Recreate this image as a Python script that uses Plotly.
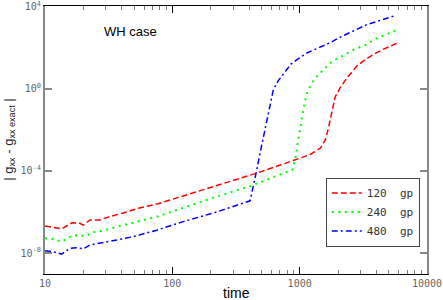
import plotly.graph_objects as go

# ── Data ──────────────────────────────────────────────────────────────────────
t_120 = [10, 13.5, 16.3, 18.8, 20, 22.6, 27, 32, 41, 56, 77, 223, 460, 890,
         1210, 1450, 1590, 1670, 1800, 1900, 2080, 2360, 2820, 3260, 3770,
         4520, 5820]
err_120 = [2.1e-7, 1.5e-7, 3.0e-7, 2.8e-7, 2.3e-7, 4.1e-7, 4.1e-7, 5.9e-7,
           8.9e-7, 1.6e-6, 2.5e-6, 1.9e-5, 7.8e-5, 3.2e-4, 6.3e-4, 1.26e-3,
           3.2e-3, 1.0e-2, 8.9e-2, 0.4, 1.12, 3.5, 13, 26, 46, 83, 166]

t_240 = [10, 12, 13.5, 16.6, 18.8, 21.3, 23.3, 29.6, 36.6, 52.5, 75.4, 223,
         408, 878, 925, 957, 992, 1015, 1040, 1068, 1100, 1143, 1207, 1322,
         1447, 1633, 1787, 2142, 2725, 3364, 3796, 4690, 5960]
err_240 = [5.2e-8, 4.7e-8, 3.5e-8, 7.6e-8, 6.9e-8, 6.9e-8, 1.0e-7, 1.3e-7,
           1.9e-7, 3.4e-7, 5.9e-7, 5.6e-6, 1.8e-5, 1.15e-4, 4.2e-4, 1.55e-3,
           4.8e-3, 1.45e-2, 3.7e-2, 9.5e-2, 0.24, 0.62, 1.3, 3.3, 5.9, 12.3,
           21, 38, 87, 141, 245, 427, 760]

t_480 = [10, 11.6, 13.5, 15.7, 17.7, 20, 22.6, 28.7, 36.6, 49.4, 75.4, 122,
         223, 408, 433, 460, 489, 519, 552, 585, 621, 680, 768, 855, 977,
         1138, 1404, 1733, 2077, 2642, 3364, 4285, 5610]
err_480 = [1.3e-8, 1.15e-8, 8.9e-9, 1.7e-8, 1.8e-8, 1.6e-8, 2.5e-8, 3.2e-8,
           4.3e-8, 6.3e-8, 1.3e-7, 3.4e-7, 1.0e-6, 3.5e-6, 1.7e-5, 1.1e-4,
           7.6e-4, 4.7e-3, 3.1e-2, 0.2, 0.89, 2.5, 6.9, 16, 29, 55, 98, 174,
           324, 631, 1320, 2140, 3630]

x_ticks = [10, 100, 1000, 10000]
x_minor = [m * d for d in (10, 100, 1000) for m in range(2, 10)]
y_ticks = [1e-8, 1e-4, 1, 1e4]
y_ticktext = ["10<sup>-8</sup>", "10<sup>-4</sup>", "10<sup>0</sup>", "10<sup>4</sup>"]

MONO = "DejaVu Sans Mono"
SANS = "Liberation Sans, Arial"

fig = go.Figure()
fig.add_trace(go.Scatter(
    x=t_120, y=err_120, mode="lines", name="120  gp",
    line=dict(color="#ff0000", width=1.5, dash="6px,3px"),
))
fig.add_trace(go.Scatter(
    x=t_240, y=err_240, mode="lines", name="240  gp",
    line=dict(color="#00ff00", width=2, dash="2px,4.5px"),
))
fig.add_trace(go.Scatter(
    x=t_480, y=err_480, mode="lines", name="480  gp",
    line=dict(color="#0000ff", width=1.5, dash="6px,3px,2px,3px"),
))

fig.update_layout(
    width=443, height=300,
    margin=dict(l=45, r=16, t=6, b=26, autoexpand=False),
    paper_bgcolor="white", plot_bgcolor="white",
    showlegend=True,
    legend=dict(
        x=0.735, y=0.36, xanchor="left", yanchor="top",
        bgcolor="white", bordercolor="#444444", borderwidth=1,
        font=dict(family=MONO, size=11, color="#333333"),
        itemwidth=30,
    ),
    annotations=[
        dict(text="WH case", xref="paper", yref="paper",
             x=0.148, y=0.903, xanchor="left", yanchor="middle",
             showarrow=False, font=dict(family=SANS, size=13, color="black")),
        dict(text="| g<sub>xx</sub> - g<sub>xx exact</sub> |",
             xref="paper", yref="paper", x=-0.095, y=0.5,
             xanchor="center", yanchor="middle", textangle=-90,
             showarrow=False, font=dict(family=SANS, size=13, color="#222222")),
        dict(text="time", xref="paper", yref="paper", x=0.5, y=-0.07,
             xanchor="center", yanchor="middle", showarrow=False,
             font=dict(family=SANS, size=14, color="black")),
    ],
)

fig.update_xaxes(
    type="log", range=[1, 4], automargin=False,
    showgrid=False, zeroline=False,
    showline=True, linecolor="black", linewidth=1, mirror="ticks",
    tickmode="array", tickvals=x_ticks, ticktext=[str(v) for v in x_ticks],
    ticks="inside", ticklen=7, tickcolor="black", tickwidth=1,
    minor=dict(tickmode="array", tickvals=x_minor, ticks="inside",
               ticklen=4, tickcolor="#777777", tickwidth=1, showgrid=False),
    tickfont=dict(family=MONO, size=10, color="#666666"),
    ticklabeloverflow="allow",
)
fig.update_yaxes(
    type="log", range=[-9.02, 4.03], automargin=False,
    showgrid=False, zeroline=False,
    showline=True, linecolor="#888888", linewidth=2, mirror="ticks",
    tickmode="array", tickvals=y_ticks, ticktext=y_ticktext,
    ticks="inside", ticklen=7, tickcolor="#888888", tickwidth=2,
    tickfont=dict(family=MONO, size=10, color="#666666"),
    ticklabeloverflow="allow",
)

# browser default body margin would shift the whole figure by 8px
fig.write_html(
    "out.html",
    config={"displayModeBar": False},
    post_script="document.body.style.margin = '0';",
)
